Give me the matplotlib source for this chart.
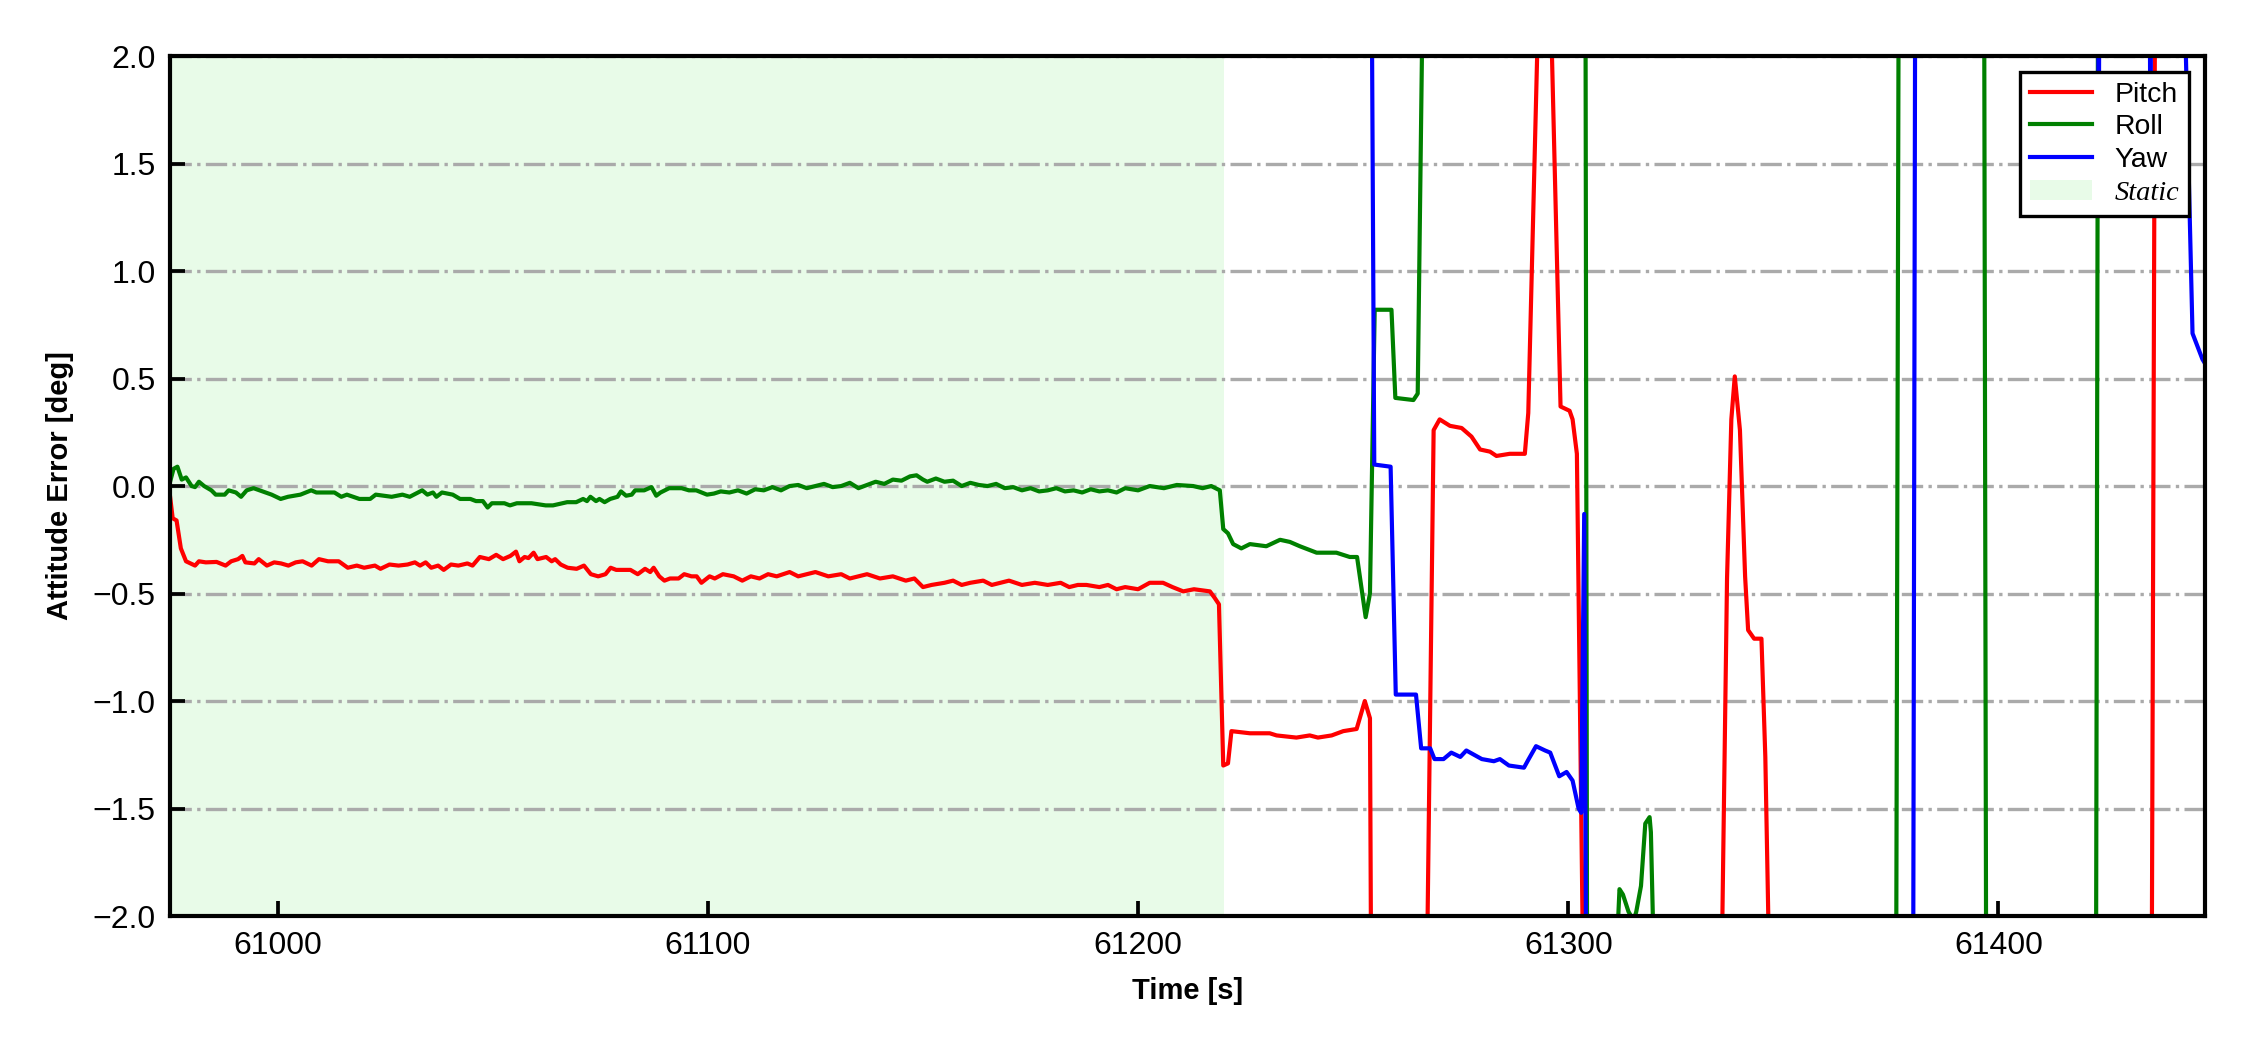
import numpy as np
import matplotlib
matplotlib.use("Agg")
import matplotlib.pyplot as plt

plt.rcParams['font.family'] = ['Liberation Sans', 'DejaVu Sans']

# time [s] and attitude errors [deg]
pitch_t = [60975.0, 60975.6, 60976.5, 60977.5, 60978.7, 60980.8, 60981.7, 60983.3, 60985.8, 60987.9,
           60989.2, 60990.8, 60991.8, 60992.5, 60994.6, 60995.6, 60997.5, 60999.2, 61000.8, 61002.5,
           61004.2, 61005.8, 61007.9, 61009.6, 61011.7, 61014.2, 61016.3, 61018.4, 61020.1, 61022.6,
           61023.9, 61026.0, 61028.1, 61030.2, 61031.9, 61033.1, 61034.4, 61035.7, 61037.3, 61038.6,
           61040.3, 61042.0, 61044.1, 61045.3, 61047.0, 61049.1, 61050.8, 61052.4, 61054.1, 61055.4,
           61056.2, 61057.4, 61058.3, 61059.5, 61060.4, 61062.4, 61063.7, 61064.5, 61065.8, 61067.4,
           61069.5, 61071.2, 61072.8, 61074.5, 61076.2, 61077.4, 61078.7, 61082.0, 61083.7, 61085.4,
           61086.6, 61087.4, 61088.7, 61089.9, 61091.2, 61093.2, 61094.5, 61096.2, 61097.4, 61098.5,
           61100.4, 61101.6, 61103.5, 61106, 61108, 61110, 61112, 61114, 61116, 61119,
           61121, 61123, 61125, 61128, 61131, 61133, 61135, 61137, 61140, 61143,
           61146, 61148, 61150, 61152, 61155, 61157, 61159, 61161, 61164, 61166,
           61168, 61170, 61173, 61176, 61179, 61182, 61184, 61186, 61188, 61191,
           61193, 61195, 61197, 61200, 61202.7, 61205.8, 61208, 61210.5, 61213, 61216.7,
           61217.8, 61218.8, 61219.8, 61220.9, 61221.7, 61226.0, 61230.6, 61232.2, 61236.8, 61239.9,
           61241.8, 61245.0, 61247.7, 61250.8, 61252.7, 61253.9, 61255.0, 61266.5, 61268.7, 61270.1,
           61272.5, 61275.2, 61277.5, 61279.5, 61281.8, 61283.3, 61286.4, 61289.9, 61290.7, 61294.5,
           61298.2, 61300.3, 61301.0, 61302.0, 61303.3, 61304.0, 61335.0, 61336.9, 61337.9, 61338.7,
           61339.9, 61341.1, 61341.8, 61343.2, 61344.9, 61345.8, 61346.5, 61347.5, 61435.0, 61437.0,
           61448.0]
pitch_v = [-0.05, -0.15, -0.16, -0.29, -0.35, -0.37, -0.35, -0.355, -0.353, -0.37,
           -0.35, -0.34, -0.325, -0.355, -0.36, -0.34, -0.37, -0.355, -0.36, -0.37,
           -0.355, -0.35, -0.37, -0.34, -0.35, -0.35, -0.38, -0.37, -0.38, -0.37,
           -0.385, -0.365, -0.37, -0.365, -0.355, -0.37, -0.355, -0.38, -0.37, -0.39,
           -0.365, -0.37, -0.36, -0.37, -0.33, -0.34, -0.32, -0.34, -0.325, -0.305,
           -0.35, -0.33, -0.335, -0.31, -0.34, -0.33, -0.35, -0.34, -0.365, -0.38,
           -0.385, -0.37, -0.41, -0.42, -0.41, -0.38, -0.39, -0.39, -0.41, -0.385,
           -0.40, -0.38, -0.42, -0.44, -0.43, -0.43, -0.41, -0.42, -0.42, -0.45,
           -0.42, -0.43, -0.41, -0.42, -0.44, -0.42, -0.43, -0.41, -0.42, -0.40,
           -0.42, -0.41, -0.40, -0.42, -0.41, -0.43, -0.42, -0.41, -0.43, -0.42,
           -0.44, -0.43, -0.47, -0.46, -0.45, -0.44, -0.46, -0.45, -0.44, -0.46,
           -0.45, -0.44, -0.46, -0.45, -0.46, -0.45, -0.47, -0.46, -0.46, -0.47,
           -0.46, -0.48, -0.47, -0.48, -0.45, -0.45, -0.47, -0.49, -0.48, -0.49,
           -0.52, -0.55, -1.30, -1.29, -1.14, -1.15, -1.15, -1.16, -1.17, -1.16,
           -1.17, -1.16, -1.14, -1.13, -1.00, -1.08, -6.0, -3.3, 0.26, 0.31,
           0.28, 0.27, 0.23, 0.17, 0.16, 0.14, 0.15, 0.15, 0.34, 3.4,
           0.37, 0.35, 0.31, 0.15, -2.0, -4.5, -3.2, -0.43, 0.31, 0.51,
           0.26, -0.42, -0.67, -0.71, -0.71, -1.26, -2.0, -3.1, -6.0, 6.0,
           5.0]

roll_t = [60975.0, 60975.8, 60976.7, 60977.7, 60978.7, 60980.0, 60980.8, 60981.7, 60982.9, 60984.6,
          60985.6, 60987.7, 60988.6, 60990.3, 60991.5, 60992.8, 60994.4, 60996.5, 60998.6, 61000.7,
          61002.4, 61005.3, 61007.8, 61009.0, 61013.2, 61014.8, 61016.1, 61019.0, 61021.5, 61022.8,
          61026.5, 61029.0, 61030.7, 61033.6, 61034.8, 61036.1, 61036.9, 61038.2, 61040.7, 61042.4,
          61044.8, 61046.1, 61047.7, 61048.8, 61049.8, 61052.7, 61054.0, 61055.6, 61059.0, 61062.3,
          61064.0, 61067.3, 61069.4, 61071.0, 61071.9, 61072.7, 61074.0, 61074.8, 61076.0, 61077.3,
          61079.0, 61079.8, 61081.0, 61082.3, 61083.1, 61085.2, 61086.9, 61088.0, 61089.0, 61091.0,
          61093.9, 61095.6, 61097.3, 61099.8, 61101.4, 61103.0, 61105, 61107, 61109, 61111,
          61113, 61115, 61117, 61119, 61121, 61123, 61125, 61127, 61129, 61131,
          61133, 61135, 61137, 61139, 61141, 61143, 61145, 61147, 61148.5, 61150,
          61151, 61153, 61155, 61157, 61159, 61161, 61163, 61165, 61167, 61169,
          61171, 61173, 61175, 61177, 61179, 61181, 61183, 61185, 61187, 61189,
          61191, 61193, 61195, 61197, 61200, 61202.7, 61206, 61209, 61212.8, 61215,
          61217.0, 61219.0, 61219.8, 61220.9, 61222.1, 61224.0, 61226.0, 61229.8, 61233.0, 61235.3,
          61237.6, 61241.5, 61246.1, 61249.2, 61250.9, 61252.9, 61253.9, 61255.0, 61258.9, 61259.8,
          61264.0, 61265.0, 61266.6, 61303.9, 61304.6, 61310.5, 61311.9, 61312.7, 61314.0, 61315.2,
          61315.8, 61316.9, 61317.9, 61318.9, 61319.2, 61320.0, 61376.0, 61377.0, 61396.5, 61397.3,
          61422.5, 61423.3, 61448.0]
roll_v = [0.02, 0.08, 0.09, 0.03, 0.04, 0.0, -0.005, 0.02, 0.0, -0.02,
          -0.04, -0.04, -0.02, -0.03, -0.05, -0.02, -0.01, -0.025, -0.04, -0.06,
          -0.05, -0.04, -0.02, -0.03, -0.03, -0.05, -0.04, -0.06, -0.06, -0.04,
          -0.05, -0.04, -0.05, -0.02, -0.04, -0.03, -0.05, -0.03, -0.04, -0.06,
          -0.06, -0.07, -0.07, -0.10, -0.08, -0.08, -0.09, -0.08, -0.08, -0.09,
          -0.09, -0.075, -0.075, -0.06, -0.07, -0.05, -0.07, -0.06, -0.075, -0.06,
          -0.05, -0.025, -0.045, -0.04, -0.02, -0.02, -0.005, -0.045, -0.03, -0.01,
          -0.01, -0.02, -0.02, -0.04, -0.035, -0.025, -0.03, -0.02, -0.035, -0.015,
          -0.02, -0.005, -0.02, 0.0, 0.005, -0.01, 0.0, 0.01, -0.005, 0.0,
          0.015, -0.01, 0.005, 0.02, 0.01, 0.03, 0.025, 0.045, 0.05, 0.03,
          0.02, 0.035, 0.02, 0.025, 0.0, 0.015, 0.005, 0.0, 0.01, -0.01,
          -0.005, -0.02, -0.01, -0.025, -0.02, -0.01, -0.025, -0.02, -0.03, -0.015,
          -0.025, -0.02, -0.03, -0.01, -0.02, 0.0, -0.01, 0.005, 0.0, -0.01,
          0.0, -0.02, -0.20, -0.22, -0.27, -0.29, -0.27, -0.28, -0.25, -0.26,
          -0.28, -0.31, -0.31, -0.33, -0.33, -0.61, -0.50, 0.82, 0.82, 0.41,
          0.40, 0.43, 3.0, 3.5, -5.0, -2.5, -1.875, -1.90, -1.98, -2.02,
          -1.98, -1.86, -1.57, -1.54, -1.61, -2.3, -4.0, 4.0, 4.0, -4.0,
          -4.0, 4.0, 4.0]

yaw_t = [60975.0, 61100.0, 61219.0, 61222.0, 61254.0, 61254.9, 61258.7, 61259.9, 61264.6, 61265.8,
         61267.9, 61268.9, 61271.0, 61272.8, 61274.9, 61276.3, 61279.9, 61282.7, 61284.1, 61286.2,
         61289.7, 61290.8, 61292.5, 61294.6, 61295.8, 61297.9, 61299.6, 61301.0, 61302.4, 61303.0,
         61303.7, 61304.6, 61380.0, 61380.8, 61422.8, 61423.3, 61423.8, 61434.8, 61435.3, 61435.8,
         61443.2, 61445.1, 61447.4, 61448.0]
yaw_v = [4.6, 4.4, 4.3, 3.8, 3.5, 0.10, 0.09, -0.97, -0.97, -1.22,
         -1.22, -1.27, -1.27, -1.24, -1.26, -1.23, -1.27, -1.28, -1.27, -1.30,
         -1.31, -1.27, -1.21, -1.23, -1.24, -1.35, -1.33, -1.37, -1.50, -1.52,
         -0.13, -4.5, -4.0, 4.0, 4.0, 1.6, 4.0, 4.0, 1.6, 4.0,
         2.3, 0.71, 0.59, 0.57]

static_start, static_end = 60975.0, 61220.0
x_lim = (60975.0, 61448.0)
y_lim = (-2.0, 2.0)

fig = plt.figure(figsize=(7.5, 3.5), dpi=300)
ax = fig.add_axes([0.0756, 0.1276, 0.9044, 0.819])

ax.axvspan(static_start, static_end, color='lightgreen', alpha=0.2, lw=0, label='Static', zorder=0)
ax.plot(pitch_t, pitch_v, color='r', lw=1.0, label='Pitch')
ax.plot(roll_t, roll_v, color='g', lw=1.0, label='Roll')
ax.plot(yaw_t, yaw_v, color='b', lw=1.0, label='Yaw')

ax.set_xlim(*x_lim)
ax.set_ylim(*y_lim)
ax.set_xticks(np.arange(61000, 61401, 100))
ax.set_yticks(np.arange(-2.0, 2.01, 0.5))
ax.tick_params(direction='in', length=3.5, width=0.9, labelsize=7.7, pad=3.5)
ax.grid(axis='y', color='#aaaaaa', linestyle='-.', lw=0.8)
ax.set_axisbelow(True)
for sp in ax.spines.values():
    sp.set_linewidth(1.0)

ax.set_xlabel('Time [s]', fontsize=7, fontweight='bold', labelpad=4)
ax.set_ylabel('Attitude Error [deg]', fontsize=7, fontweight='bold', labelpad=4.5)

handles, labels = ax.get_legend_handles_labels()
order = [labels.index(k) for k in ['Pitch', 'Roll', 'Yaw', 'Static']]
leg = ax.legend([handles[i] for i in order], [labels[i] for i in order],
                loc='upper right', fontsize=6.8, fancybox=False, framealpha=1,
                edgecolor='k', borderpad=0.35, labelspacing=0.24, handlelength=2.2,
                handletextpad=0.8, borderaxespad=0.55)
leg.get_frame().set_linewidth(0.8)
leg.get_texts()[3].set_fontfamily(['Liberation Serif', 'DejaVu Serif'])
leg.get_texts()[3].set_fontstyle('italic')

fig.savefig('out.png', dpi=300)
